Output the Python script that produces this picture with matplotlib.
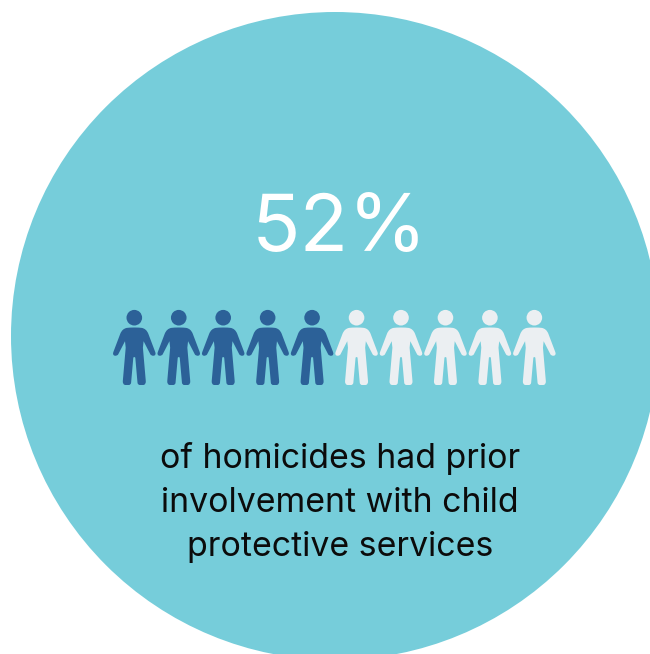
import matplotlib
matplotlib.use("Agg")
import matplotlib.pyplot as plt
from matplotlib.patches import Circle, PathPatch
from matplotlib.path import Path
from matplotlib.transforms import Affine2D

# Figures shown in the graphic
share_label = "52%"
caption_lines = ["of homicides had prior", "involvement with child", "protective services"]
icons_total = 10
icons_filled = 5

DISC = "#76CDDA"
FILLED = "#2C6198"
EMPTY = "#EBEFF2"
WIDTH, HEIGHT = 650, 654


def person_body():
    """Outline of the figure's body, centred on x=0, with y running downwards."""
    right = [
        (Path.MOVETO, (0, 9.8)),
        (Path.CURVE3, (5, 9.8)), (Path.CURVE3, (7.5, 10.2)),
        (Path.CURVE3, (12, 11)), (Path.CURVE3, (14, 16)),
        (Path.LINETO, (21, 34.5)),
        (Path.CURVE3, (22, 37.5)), (Path.CURVE3, (19.5, 38)),
        (Path.CURVE3, (17, 38.4)), (Path.CURVE3, (16, 36.5)),
        (Path.LINETO, (9.3, 23.5)),
        (Path.LINETO, (8.6, 30)),
        (Path.LINETO, (11.5, 63.5)),
        (Path.CURVE3, (11.6, 67)), (Path.CURVE3, (9, 67.3)),
        (Path.LINETO, (5.5, 67.3)),
        (Path.CURVE3, (3.5, 67.3)), (Path.CURVE3, (3.2, 65)),
        (Path.LINETO, (1, 40)),
        (Path.CURVE3, (0, 38.5)), (Path.CURVE3, (-1, 40)),
    ]
    left = [
        (Path.LINETO, (-3.2, 65)),
        (Path.CURVE3, (-3.5, 67.3)), (Path.CURVE3, (-5.5, 67.3)),
        (Path.LINETO, (-9, 67.3)),
        (Path.CURVE3, (-11.6, 67)), (Path.CURVE3, (-11.5, 63.5)),
        (Path.LINETO, (-8.6, 30)),
        (Path.LINETO, (-9.3, 23.5)),
        (Path.LINETO, (-16, 36.5)),
        (Path.CURVE3, (-17, 38.4)), (Path.CURVE3, (-19.5, 38)),
        (Path.CURVE3, (-22, 37.5)), (Path.CURVE3, (-21, 34.5)),
        (Path.LINETO, (-14, 16)),
        (Path.CURVE3, (-12, 11)), (Path.CURVE3, (-7.5, 10.2)),
        (Path.CURVE3, (-5, 9.8)), (Path.CURVE3, (0, 9.8)),
        (Path.CLOSEPOLY, (0, 9.8)),
    ]
    codes, verts = zip(*(right + left))
    return Path(verts, codes)


fig = plt.figure(figsize=(WIDTH / 100, HEIGHT / 100), dpi=100, facecolor="white")
ax = fig.add_axes([0, 0, 1, 1])
ax.set_xlim(0, WIDTH)
ax.set_ylim(HEIGHT, 0)
ax.axis("off")

ax.add_patch(Circle((335, 336), 324, facecolor=DISC, edgecolor="none"))

ax.text(340, 251.5, share_label, color="white", fontsize=57.5, family="Inter",
        fontweight="normal", ha="center", va="baseline")

body = person_body()
for i in range(icons_total):
    colour = FILLED if i < icons_filled else EMPTY
    x0, y0 = 134.3 + 44.45 * i, 317.7
    ax.add_patch(Circle((x0, y0), 7.8, facecolor=colour, edgecolor="none"))
    ax.add_patch(PathPatch(body, facecolor=colour, edgecolor="none",
                           transform=Affine2D().translate(x0, y0) + ax.transData))

for line, baseline in zip(caption_lines, [468, 512, 556]):
    ax.text(340, baseline, line, color="#0B0B0B", fontsize=24.4, family="Inter",
            ha="center", va="baseline")

fig.savefig("out.png", dpi=100, facecolor="white")
